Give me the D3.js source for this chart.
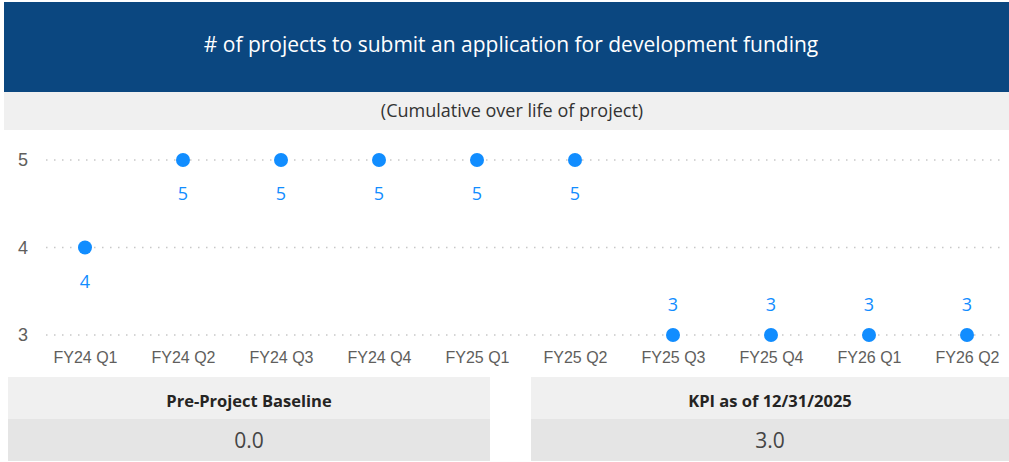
<!DOCTYPE html>
<html>
<head>
<meta charset="utf-8">
<script src="https://cdn.jsdelivr.net/npm/d3@7"></script>
<style>
  body { margin: 0; background: #fff; }
  svg { display: block; font-family: "Open Sans", "Noto Sans", sans-serif; }
</style>
</head>
<body>
<script>
const w = 1009;
const h = 462;

const title = "# of projects to submit an application for development funding";
const subtitle = "(Cumulative over life of project)";
const quarters = ["FY24 Q1", "FY24 Q2", "FY24 Q3", "FY24 Q4", "FY25 Q1", "FY25 Q2", "FY25 Q3", "FY25 Q4", "FY26 Q1", "FY26 Q2"];
const counts = [4, 5, 5, 5, 5, 5, 3, 3, 3, 3];
const yTicks = [3, 4, 5];
const cardTitles = ["Pre-Project Baseline", "KPI as of 12/31/2025"];
const cardValues = [0.0, 3.0];

const blue = "#118dff";

const svg = d3.select("body")
              .append("svg")
              .attr("width", w)
              .attr("height", h);

// header
svg.append("rect")
   .attr("x", 4).attr("y", 2)
   .attr("width", w - 4).attr("height", 90)
   .attr("fill", "#0b4780");

svg.append("text")
   .attr("x", 511).attr("y", 52)
   .attr("text-anchor", "middle")
   .attr("fill", "#fff")
   .style("font-size", "21px")
   .text(title);

svg.append("rect")
   .attr("x", 4).attr("y", 92)
   .attr("width", w - 4).attr("height", 38)
   .attr("fill", "#f0f0f0");

svg.append("text")
   .attr("x", 512).attr("y", 117)
   .attr("text-anchor", "middle")
   .attr("fill", "#333")
   .style("font-size", "18px")
   .text(subtitle);

// scales
const xScale = d3.scalePoint()
                 .domain(quarters)
                 .range([36, 1016])
                 .padding(0.5);

const yScale = d3.scaleLinear()
                 .domain([3, 5])
                 .range([335, 160]);

// gridlines
svg.selectAll(".grid")
   .data(yTicks)
   .enter()
   .append("line")
   .attr("class", "grid")
   .attr("x1", 46).attr("x2", 1003)
   .attr("y1", d => yScale(d)).attr("y2", d => yScale(d))
   .attr("stroke", "#c8c8c8")
   .attr("stroke-width", 1.5)
   .attr("stroke-dasharray", "1.5,6.5");

const yAxis = d3.axisLeft(yScale)
                .tickValues(yTicks)
                .tickFormat(d3.format("d"))
                .tickSize(0)
                .tickPadding(0);

const gy = svg.append("g")
              .attr("transform", "translate(28,0)")
              .call(yAxis);
gy.select(".domain").remove();
gy.selectAll("text").attr("fill", "#605e5c").style("font-size", "18px");

const xAxis = d3.axisBottom(xScale).tickSize(0).tickPadding(0);
const gx = svg.append("g")
              .attr("transform", "translate(0,352)")
              .call(xAxis);
gx.select(".domain").remove();
gx.selectAll("text").attr("fill", "#605e5c").style("font-size", "16px");

// points
svg.selectAll(".dot")
   .data(counts)
   .enter()
   .append("circle")
   .attr("class", "dot")
   .attr("cx", (d, i) => xScale(quarters[i]))
   .attr("cy", d => yScale(d))
   .attr("r", 7)
   .attr("fill", blue);

svg.selectAll(".lbl")
   .data(counts)
   .enter()
   .append("text")
   .attr("class", "lbl")
   .attr("x", (d, i) => xScale(quarters[i]))
   .attr("y", d => d === 3 ? yScale(d) - 24 : yScale(d) + 40)
   .attr("text-anchor", "middle")
   .attr("fill", blue)
   .style("font-size", "18px")
   .text(d => d);

// cards
const cards = svg.selectAll(".card")
                 .data(cardTitles)
                 .enter()
                 .append("g")
                 .attr("class", "card");

const cardX = [8, 531];
const cardW = [482, 478];

cards.append("rect")
     .attr("x", (d, i) => cardX[i]).attr("y", 377)
     .attr("width", (d, i) => cardW[i]).attr("height", 42)
     .attr("fill", "#f0f0f0");

cards.append("rect")
     .attr("x", (d, i) => cardX[i]).attr("y", 419)
     .attr("width", (d, i) => cardW[i]).attr("height", 42)
     .attr("fill", "#e5e5e5");

cards.append("text")
     .attr("x", (d, i) => cardX[i] + cardW[i] / 2)
     .attr("y", 407)
     .attr("text-anchor", "middle")
     .attr("fill", "#252423")
     .style("font-size", "16.5px")
     .style("font-weight", "bold")
     .text(d => d);

cards.append("text")
     .attr("x", (d, i) => cardX[i] + cardW[i] / 2)
     .attr("y", 448)
     .attr("text-anchor", "middle")
     .attr("fill", "#444")
     .style("font-size", "21px")
     .text((d, i) => cardValues[i].toFixed(1));
</script>
</body>
</html>
